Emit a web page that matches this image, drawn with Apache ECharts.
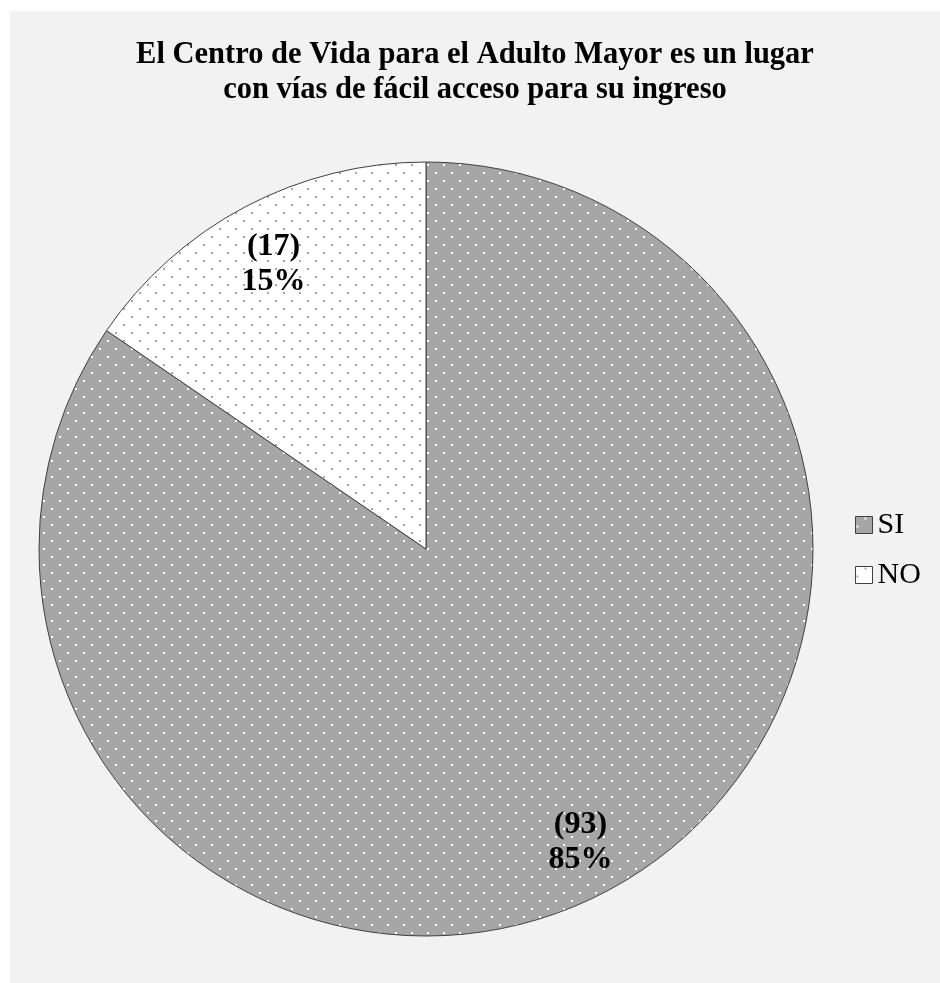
<!DOCTYPE html>
<html>
<head>
<meta charset="utf-8">
<script src="https://cdn.jsdelivr.net/npm/echarts@6/dist/echarts.min.js"></script>
<style>
  html, body { margin: 0; padding: 0; background: #ffffff; }
  #chart { position: absolute; left: 10px; top: 11px; width: 930px; height: 972px; }
</style>
</head>
<body>
<div id="chart"></div>
<script>
// Survey answers and their counts
const categories = ['SI', 'NO'];
const counts = [93, 17];
const titleText = 'El Centro de Vida para el Adulto Mayor es un lugar\ncon vías de fácil acceso para su ingreso';

const SERIF = '"Liberation Serif", "Times New Roman", serif';
const GRAY = '#a6a6a6';

// Dotted fill: a 16x16 tile with two staggered 2x2 dots
function dotPattern(bg, dot) {
  const c = document.createElement('canvas');
  c.width = 16; c.height = 16;
  const ctx = c.getContext('2d');
  ctx.fillStyle = bg;
  ctx.fillRect(0, 0, 16, 16);
  ctx.fillStyle = dot;
  ctx.fillRect(9, 1, 2, 2);
  ctx.fillRect(1, 9, 2, 2);
  return { image: c, repeat: 'repeat' };
}

const fills = [dotPattern(GRAY, '#ffffff'), dotPattern('#ffffff', GRAY)];
// small nudge so the narrow slice's label sits a bit further in
const labelNudges = [[0, 0], [2, 8]];

const pieData = categories.map((name, i) => ({
  name: name,
  value: counts[i],
  itemStyle: { color: fills[i] }
}));

const center = [416, 538];

const chart = echarts.init(document.getElementById('chart'), null, { renderer: 'canvas' });
chart.setOption({
  backgroundColor: '#f2f2f2',
  animation: false,
  title: {
    text: titleText,
    left: 'center',
    top: 22,
    textStyle: {
      fontFamily: SERIF,
      fontWeight: 'bold',
      fontSize: 30.5,
      lineHeight: 35,
      color: '#000000'
    }
  },
  legend: {
    orient: 'vertical',
    left: 840,
    top: 494,
    itemWidth: 17,
    itemHeight: 17,
    itemGap: 20,
    icon: 'rect',
    data: categories,
    itemStyle: { borderColor: '#404040', borderWidth: 1 },
    textStyle: {
      fontFamily: SERIF,
      fontSize: 30,
      color: '#000000'
    }
  },
  series: [
    {
      // Slices
      type: 'pie',
      center: center,
      radius: [0, 387],
      startAngle: 90,
      clockwise: true,
      silent: true,
      label: { show: false },
      labelLine: { show: false },
      itemStyle: { borderColor: '#404040', borderWidth: 1 },
      data: pieData
    },
    {
      // Value labels placed near the rim of each slice
      type: 'pie',
      center: center,
      radius: [303, 353],
      startAngle: 90,
      clockwise: true,
      silent: true,
      percentPrecision: 0,
      itemStyle: { color: 'transparent', borderWidth: 0 },
      label: {
        show: true,
        position: 'inside',
        formatter: '({c})\n{d}%',
        fontFamily: SERIF,
        fontWeight: 'bold',
        fontSize: 32,
        lineHeight: 35,
        color: '#000000'
      },
      labelLine: { show: false },
      data: categories.map((name, i) => ({
        name: name,
        value: counts[i],
        label: { offset: labelNudges[i] }
      }))
    }
  ]
});
</script>
</body>
</html>
